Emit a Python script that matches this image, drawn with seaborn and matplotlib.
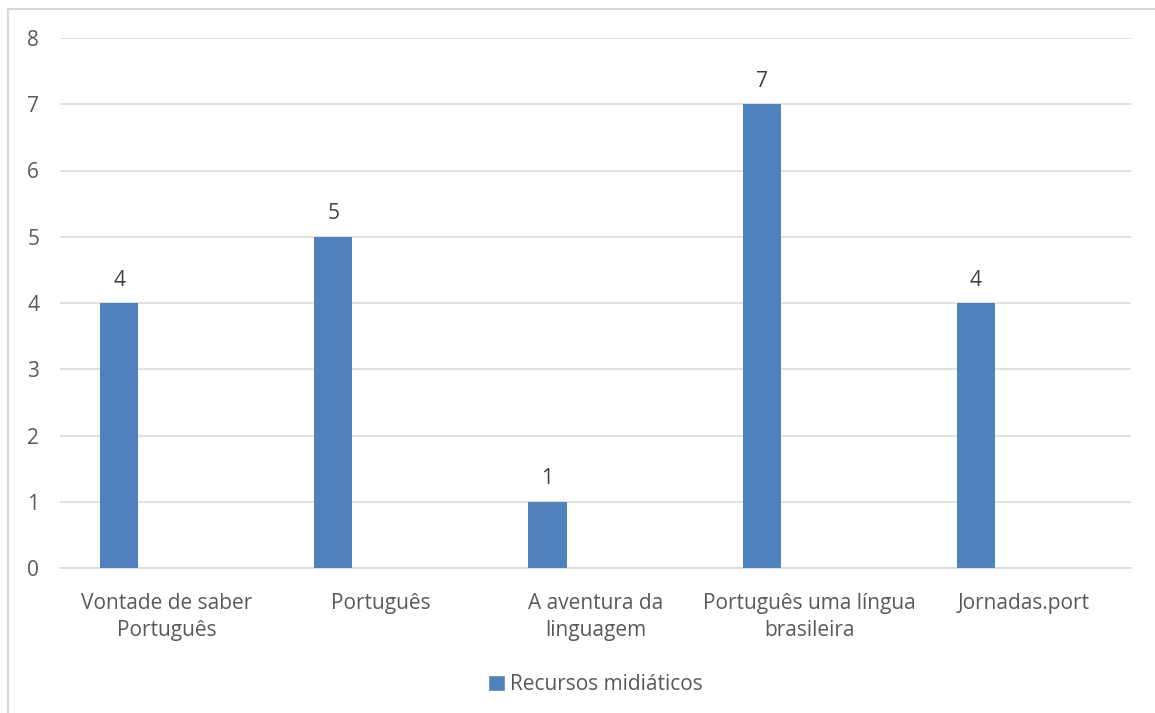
import numpy as np
import pandas as pd
import seaborn as sns
import matplotlib.pyplot as plt
from matplotlib.patches import Rectangle, Patch

# data
categories = ["Vontade de saber\nPortuguês", "Português", "A aventura da\nlinguagem",
              "Português uma língua\nbrasileira", "Jornadas.port"]
values = [4, 5, 1, 7, 4]
series_name = "Recursos midiáticos"

bar_color = "#4f81bd"
text_color = "#595959"
grid_color = "#d9d9d9"

sns.set_theme(style="white")
plt.rcParams["font.family"] = ["Open Sans", "DejaVu Sans"]

# bars sit left of the slot centre, like an Excel clustered column
idx = np.arange(len(categories))
df = pd.DataFrame({"pos": idx - 0.224, "value": values})

fig = plt.figure(figsize=(11.55, 7.13), dpi=100)
ax = fig.add_axes([60 / 1155, 145 / 713, 1071 / 1155, 530 / 713])

sns.barplot(data=df, x="pos", y="value", native_scale=True, width=0.178,
            color=bar_color, saturation=1, ax=ax, zorder=3, linewidth=0)

fs = 15
ax.set_xlim(-0.5, len(categories) - 0.5)
ax.set_ylim(0, 8)
ax.set_yticks(range(0, 9))
ax.set_xticks(idx)
ax.set_xticklabels(categories, fontsize=fs, color=text_color, linespacing=1.35)
ax.tick_params(axis="y", labelsize=fs, labelcolor=text_color, length=0, pad=15)
ax.tick_params(axis="x", length=0, pad=18)
ax.set_xlabel("")
ax.set_ylabel("")

ax.yaxis.grid(True, color=grid_color, linewidth=1.1, zorder=0)
ax.set_axisbelow(True)
for s in ["top", "right", "left"]:
    ax.spines[s].set_visible(False)
ax.spines["bottom"].set_color(grid_color)
ax.spines["bottom"].set_linewidth(1.1)

for p, v in zip(df["pos"], values):
    ax.annotate(str(v), (p, v), xytext=(0, 9), textcoords="offset points",
                ha="center", va="bottom", fontsize=fs, color="#404040")

ax.legend(handles=[Patch(facecolor=bar_color, label=series_name)],
          loc="center", bbox_to_anchor=(0.5, -0.22), frameon=False,
          fontsize=fs, labelcolor=text_color, handlelength=0.8, handleheight=0.8,
          handletextpad=0.25)

# outer chart border (cut at right/bottom)
fig.patches.append(Rectangle((8 / 1155, -0.1), 1.2, (713 - 9) / 713 + 0.1,
                             transform=fig.transFigure, fill=False,
                             edgecolor=grid_color, linewidth=1.5))

fig.savefig("out.png", dpi=100)
